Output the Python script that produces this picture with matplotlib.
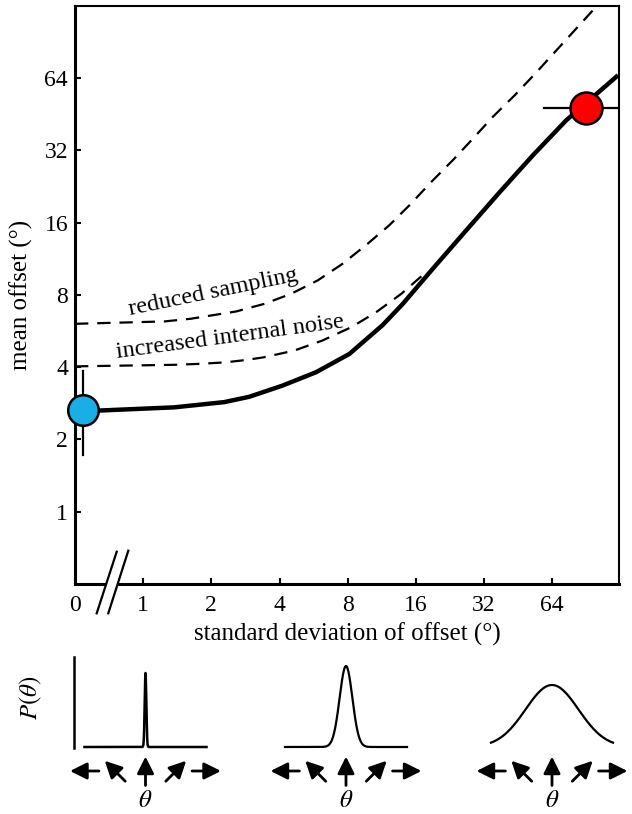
import numpy as np
import matplotlib
matplotlib.use('Agg')
import matplotlib.pyplot as plt
from matplotlib.transforms import ScaledTranslation
from matplotlib.lines import Line2D
from matplotlib.patches import Polygon

plt.rcParams['font.family'] = ['Liberation Serif', 'DejaVu Serif']
plt.rcParams['mathtext.fontset'] = 'stix'

# ---------------- data ----------------
sd_solid = [0.12, 0.38, 1.37, 2.28, 2.94, 4.12, 5.80, 8.14, 11.4, 13.96,
            19.0, 26.7, 37.5, 52.6, 73.9, 125]
mean_solid = [2.64, 2.64, 2.72, 2.86, 3.01, 3.35, 3.81, 4.54, 5.98, 7.31,
              10.27, 14.85, 21.4, 30.5, 42.7, 65.7]

sd_sampling = [0, 1.24, 1.62, 2.57, 3.43, 4.50, 5.90, 7.60, 9.81, 12.2, 15.0,
               18.7, 23.3, 28.6, 35.0, 43.7, 53.9, 101]
mean_sampling = [6.06, 6.20, 6.36, 6.82, 7.34, 8.08, 9.19, 10.78, 13.07, 15.58,
                 18.9, 23.6, 29.1, 35.8, 44.1, 54.2, 66.8, 128]

sd_noise = [0, 1.37, 1.80, 2.32, 2.88, 3.43, 4.65, 6.18, 8.31, 10.7, 13.8, 17.1]
mean_noise = [4.03, 4.09, 4.13, 4.19, 4.29, 4.40, 4.69, 5.16, 5.87, 6.78, 8.08, 9.64]

blue_x, blue_y = 0.12, 2.64
blue_ylo, blue_yhi = 1.73, 3.87
red_x, red_y = 90, 48
red_xlo, red_xhi = 59, 135

x_ticks = [0, 1, 2, 4, 8, 16, 32, 64]
x_ticklabels = ['0', '1', '2', '4', '8', '16', '32', '64']
y_ticks = [1, 2, 4, 8, 16, 32, 64]
y_ticklabels = ['1', '2', '4', '8', '16', '32', '64']

label_sampling = 'reduced sampling'
label_noise = 'increased internal noise'
xlabel = 'standard deviation of offset (°)'
ylabel = 'mean offset (°)'

# bottom schematic distributions
panel_sigmas = [1.2, 9.4, 39.0]      # degrees
panel_peaks = [74, 81, 62]           # arbitrary height units
arrow_thetas = [-90, -45, 0, 45, 90]
arrow_dirs = [180, 135, 90, 45, 0]   # screen direction of each arrow (deg)

# ---------------- figure ----------------
W, H = 632, 814
fig = plt.figure(figsize=(W / 100, H / 100), dpi=100)


def fwd(x):
    x = np.asarray(x, dtype=float)
    return np.where(x >= 1, np.log2(np.maximum(x, 1)), x - 1)


def inv(y):
    y = np.asarray(y, dtype=float)
    return np.where(y >= 0, np.power(2.0, np.clip(y, 0, 60)), y + 1)


ax = fig.add_axes([75 / W, (H - 584) / H, 544 / W, 578.3 / H])
ax.set_xscale('function', functions=(fwd, inv))
ax.set_yscale('log', base=2)
ax.set_xlim(0, 2 ** 6.98)
ax.set_ylim(0.5, 128)

ax.plot(sd_sampling, mean_sampling, color='black', lw=1.6, dashes=(6, 4),
        dash_capstyle='butt', dash_joinstyle='round')
ax.plot(sd_noise, mean_noise, color='black', lw=1.6, dashes=(6, 4),
        dash_capstyle='butt', dash_joinstyle='round')
ax.plot(sd_solid, mean_solid, color='black', lw=3.2, solid_capstyle='butt',
        solid_joinstyle='round')

# error bars and dots
ax.plot([blue_x, blue_x], [blue_ylo, blue_yhi], color='black', lw=1.6,
        zorder=4)
ax.plot([red_xlo, red_xhi], [red_y, red_y], color='black', lw=1.6, zorder=4)
ax.plot([blue_x], [blue_y], 'o', ms=22, mfc='#1aaee6', mec='black', mew=1.8,
        zorder=5, clip_on=False)
ax.plot([red_x], [red_y], 'o', ms=23, mfc='#ff0000', mec='black', mew=1.8,
        zorder=5)

# annotations
ax.text(2.06, 7.77, label_sampling, rotation=11.6, rotation_mode='anchor',
        ha='center', va='baseline', fontsize=17.5)
ax.text(2.44, 5.08, label_noise, rotation=7.7, rotation_mode='anchor',
        ha='center', va='baseline', fontsize=17.5)

ax.set_xticks(x_ticks)
ax.set_xticklabels(x_ticklabels)
ax.set_yticks(y_ticks)
ax.set_yticklabels(y_ticklabels)
ax.minorticks_off()
ax.tick_params(axis='both', direction='in', length=4, width=1.5,
               labelsize=17)
ax.tick_params(axis='x', pad=8)
ax.tick_params(axis='y', pad=5)
for s in ['left', 'bottom']:
    ax.spines[s].set_linewidth(2.2)
for s in ['top', 'right']:
    ax.spines[s].set_linewidth(1.5)

ax.set_xlabel(xlabel, fontsize=18, labelpad=5)
ax.set_ylabel(ylabel, fontsize=18, labelpad=8)

# axis break marks (axes coordinates)
def px2ax(xp, yp):
    return ((xp - 75) / 544, (584 - yp) / 578.3)

a0 = px2ax(96.7, 613.3); a1 = px2ax(116.7, 551.7)
b0 = px2ax(108.3, 613.3); b1 = px2ax(128.3, 550.7)
poly = Polygon([a0, a1, b1, b0], closed=True, transform=ax.transAxes,
               facecolor='white', edgecolor='none', clip_on=False, zorder=6)
ax.add_patch(poly)
for p, q in [(a0, a1), (b0, b1)]:
    ax.add_line(Line2D([p[0], q[0]], [p[1], q[1]], transform=ax.transAxes,
                       color='black', lw=1.6, clip_on=False, zorder=7))

# ---------------- bottom panels ----------------
centers = [145.5, 346, 552]
pxdeg = 0.678
half_w = 114 * pxdeg
theta = np.linspace(-90, 90, 3001)
for k, (cx, sig, pk) in enumerate(zip(centers, panel_sigmas, panel_peaks)):
    pax = fig.add_axes([(cx - half_w) / W, 0, 2 * half_w / W, 159 / H])
    pax.set_xlim(-114, 114)
    pax.set_ylim(-67, 92)
    if k > 0:
        pax.axis('off')
    else:
        for s in ['top', 'right', 'bottom']:
            pax.spines[s].set_visible(False)
        pax.spines['left'].set_position(('data', -106))
        pax.spines['left'].set_bounds(-1, 90)
        pax.spines['left'].set_linewidth(1.8)
        pax.set_xticks([])
        pax.set_yticks([])
        pax.patch.set_visible(False)
    curve = pk * np.exp(-0.5 * (theta / sig) ** 2)
    pax.plot(theta, curve, color='black', lw=1.8 if k == 0 else 1.6)
    for th, d in zip(arrow_thetas, arrow_dirs):
        hl = 10.4 / 72.0
        dx, dy = hl * np.cos(np.radians(d)), hl * np.sin(np.radians(d))
        tr_tip = pax.transData + ScaledTranslation(dx, dy, fig.dpi_scale_trans)
        tr_tail = pax.transData + ScaledTranslation(-dx, -dy, fig.dpi_scale_trans)
        pax.annotate('', xy=(th, -24), xycoords=tr_tip,
                     xytext=(th, -24), textcoords=tr_tail,
                     arrowprops=dict(arrowstyle='-|>,head_length=0.6,head_width=0.3',
                                     mutation_scale=17, lw=2.0, color='black',
                                     shrinkA=0, shrinkB=0),
                     annotation_clip=False)
    pax.text(0, -54, r'$\theta$', ha='center', va='center', fontsize=18)

fig.text(31 / W, 1 - 698 / H, r'$P(\theta)$', rotation=90, ha='center',
         va='center', fontsize=18)

fig.savefig('out.png', dpi=100)
